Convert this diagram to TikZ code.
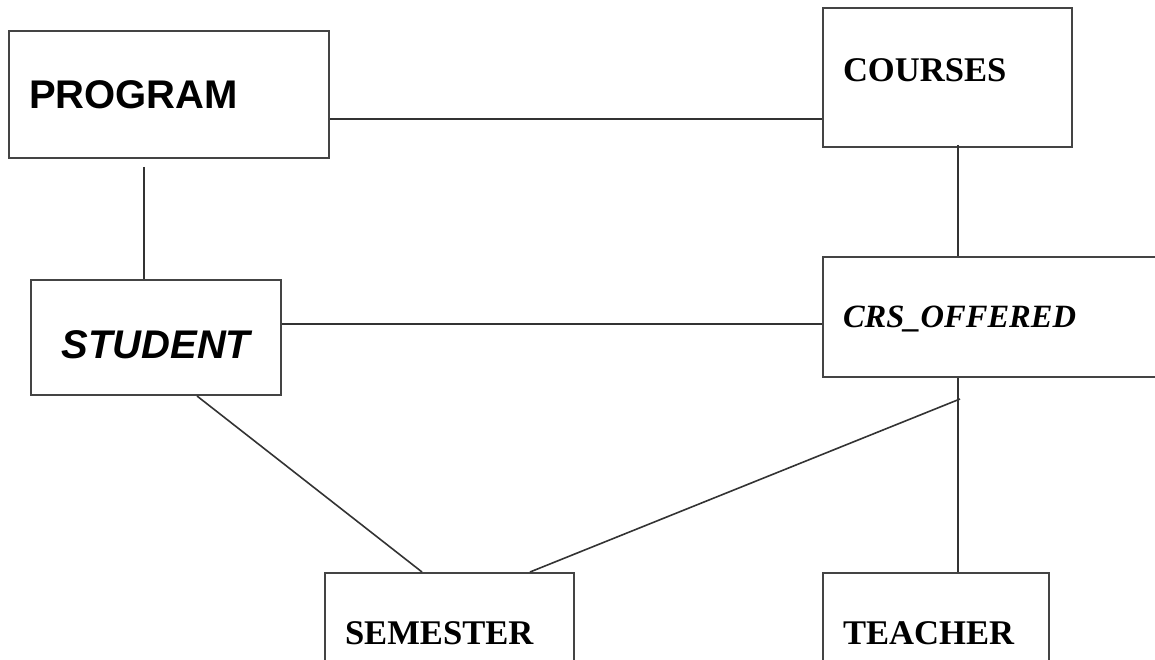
\documentclass[tikz,border=0pt]{standalone}
\usepackage{fontspec}
\setmainfont{Liberation Serif}
\newfontfamily\arialfont{Liberation Sans}
\definecolor{boxgray}{HTML}{444444}
\definecolor{linegray}{HTML}{333333}
\tikzset{
  entity/.style={draw=boxgray, line width=2pt, anchor=north west, inner xsep=20pt, inner ysep=0pt, text depth=0pt},
  sansbig/.style={font=\arialfont\bfseries\fontsize{40}{48}\selectfont},
  sansitalic/.style={font=\arialfont\bfseries\itshape\fontsize{40}{48}\selectfont},
  serifbig/.style={font=\bfseries\fontsize{34.6}{40}\selectfont},
  serifitalic/.style={font=\bfseries\itshape\fontsize{32.5}{40}\selectfont},
  link/.style={draw=linegray, line width=1.6pt}
}
\begin{document}
\begin{tikzpicture}[x=1pt,y=-1pt]
\useasboundingbox (0,0) rectangle (1155,660);
\clip (0,0) rectangle (1155,660);

\node[entity, sansbig, text width=280pt, minimum height=127pt, align=left] (program) at (8,30) {PROGRAM};
\node[entity, serifbig, text width=209pt, minimum height=139pt, align=left, text depth=14pt] (courses) at (822,7) {COURSES};
\node[entity, sansitalic, text width=210pt, minimum height=115pt, align=center, text height=41pt] (student) at (30,279) {STUDENT};
\node[entity, serifitalic, text width=320pt, minimum height=120pt, align=left] (crs) at (822,256) {CRS\_OFFERED};
\node[entity, serifbig, text width=209pt, minimum height=121pt, align=left] (semester) at (324,572) {SEMESTER};
\node[entity, serifbig, text width=186pt, minimum height=121pt, align=left] (teacher) at (822,572) {TEACHER};

\coordinate (p1) at ([yshift=-24.5pt]program.east);
\coordinate (p2) at ([xshift=136pt,yshift=-8pt]program.south west);
\coordinate (c1) at ([xshift=136pt,yshift=3pt]courses.south west);
\coordinate (s1) at ([yshift=13.5pt]student.east);
\coordinate (s2) at ([xshift=167pt]student.south west);
\coordinate (o1) at ([xshift=136pt]crs.south west);
\coordinate (o2) at ([xshift=138pt,yshift=-21pt]crs.south west);

\draw[link] (p1) -- (p1 -| courses.west);
\draw[link] (p2) -- (p2 |- student.north);
\draw[link] (c1) -- (c1 |- crs.north);
\draw[link] (s1) -- (s1 -| crs.west);
\draw[link] (s2) -- ([xshift=98pt]semester.north west);
\draw[link] (o2) -- ([xshift=206pt]semester.north west);
\draw[link] (o1) -- (o1 |- teacher.north);

\end{tikzpicture}
\end{document}
